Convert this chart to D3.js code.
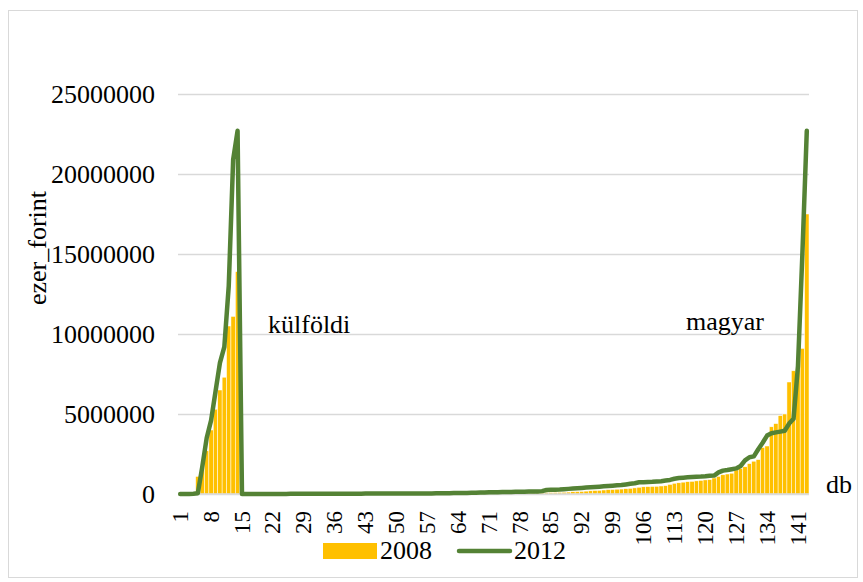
<!DOCTYPE html>
<html>
<head>
<meta charset="utf-8">
<script src="https://cdn.jsdelivr.net/npm/d3@7"></script>
<style>
  html, body { margin: 0; padding: 0; background: #fff; }
  svg { display: block; }
</style>
</head>
<body>
<svg id="chart" width="863" height="582"></svg>
<script>
// ---------- DATA ----------
const categories = d3.range(1, 144); // 1 .. 143
const tickLabels = [1, 8, 15, 22, 29, 36, 43, 50, 57, 64, 71, 78, 85, 92, 99, 106, 113, 120, 127, 134, 141];
const yTicks = [0, 5000000, 10000000, 15000000, 20000000, 25000000];
const seriesNames = ["2008", "2012"];

const values2008 = [
  0, 30000, 60000, 120000, 1100000, 1600000, 2700000, 4000000, 5300000, 6500000,
  7300000, 10500000, 11100000, 13900000, 0, 2000, 2500, 3000, 3500, 4000,
  4500, 5000, 5500, 6000, 6500, 7000, 7500, 8000, 9000, 10000,
  11000, 12000, 13000, 14000, 15000, 16000, 17000, 18000, 19000, 20000,
  21000, 22000, 23000, 24000, 25000, 26000, 27000, 28000, 29000, 30000,
  31000, 32000, 33000, 34000, 35000, 36000, 37000, 38000, 39000, 40000,
  42000, 44000, 46000, 48000, 50000, 52000, 54000, 56000, 58000, 60000,
  62000, 64000, 66000, 68000, 70000, 72000, 74000, 76000, 78000, 80000,
  82000, 84000, 86000, 88000, 90000, 95000, 100000, 110000, 120000, 140000,
  150000, 160000, 180000, 200000, 220000, 230000, 250000, 270000, 280000, 300000,
  310000, 330000, 350000, 380000, 420000, 450000, 460000, 470000, 480000, 500000,
  520000, 600000, 670000, 700000, 740000, 770000, 790000, 820000, 850000, 880000,
  900000, 1000000, 1100000, 1200000, 1250000, 1300000, 1500000, 1600000, 1700000, 1900000,
  2050000, 2150000, 2900000, 3000000, 4200000, 4400000, 4900000, 5000000, 7000000, 7700000,
  7800000, 9100000, 17500000
];

const values2012 = [
  0, 0, 0, 20000, 50000, 1700000, 3500000, 4600000, 6400000, 8200000,
  9200000, 13000000, 20900000, 22700000, 0, 3000, 3500, 4000, 4500, 5000,
  5500, 6000, 6500, 7000, 7500, 8000, 8500, 9000, 10000, 11000,
  12000, 13000, 14000, 15000, 16000, 17000, 18000, 19000, 20000, 21000,
  22000, 23000, 24000, 25000, 26000, 27000, 28000, 29000, 30000, 31000,
  32000, 33000, 34000, 35000, 36000, 37000, 38000, 39000, 40000, 42000,
  45000, 50000, 55000, 60000, 65000, 70000, 75000, 80000, 90000, 100000,
  105000, 110000, 115000, 120000, 125000, 130000, 135000, 140000, 145000, 150000,
  155000, 160000, 180000, 250000, 260000, 270000, 280000, 300000, 320000, 340000,
  360000, 380000, 400000, 420000, 440000, 460000, 480000, 500000, 520000, 540000,
  560000, 600000, 640000, 670000, 730000, 740000, 750000, 760000, 780000, 800000,
  840000, 880000, 950000, 1000000, 1020000, 1040000, 1060000, 1080000, 1090000, 1110000,
  1140000, 1150000, 1350000, 1460000, 1500000, 1550000, 1600000, 1750000, 2100000, 2300000,
  2350000, 2800000, 3200000, 3650000, 3800000, 3850000, 3900000, 3950000, 4400000, 4700000,
  8000000, 15000000, 22700000
];

// ---------- LAYOUT ----------
const svg = d3.select("#chart");
const plotLeft = 178, plotRight = 809, plotTop = 94, plotBottom = 494;
const font = "'Liberation Serif', 'Times New Roman', serif";
const barColor = "#FFC000";
const lineColor = "#548235";
const gridColor = "#d9d9d9";

// outer border
svg.append("rect")
  .attr("x", 8.5).attr("y", 10.5)
  .attr("width", 849).attr("height", 567)
  .attr("fill", "#fff").attr("stroke", gridColor).attr("stroke-width", 1);

const x = d3.scaleBand().domain(categories).range([plotLeft, plotRight]).padding(0);
const y = d3.scaleLinear().domain([0, 25000000]).range([plotBottom, plotTop]);

// gridlines + y labels
const yAxis = d3.axisLeft(y).tickValues(yTicks).tickSize(-(plotRight - plotLeft)).tickPadding(23)
  .tickFormat(d3.format("d"));
const gy = svg.append("g").attr("transform", `translate(${plotLeft},0)`).call(yAxis);
gy.select(".domain").remove();
gy.selectAll(".tick line").attr("stroke", gridColor).attr("stroke-width", 1.5);
gy.selectAll(".tick text").attr("font-family", font).attr("font-size", 26).attr("fill", "#000");

// bars (2008)
svg.append("g").selectAll("rect").data(categories).join("rect")
  .attr("x", d => x(d))
  .attr("width", x.bandwidth())
  .attr("y", (d, i) => y(values2008[i]))
  .attr("height", (d, i) => plotBottom - y(values2008[i]))
  .attr("fill", barColor)
  .attr("stroke", "#fff")
  .attr("stroke-width", 0.5);

// x axis
const xAxis = d3.axisBottom(x).tickValues(tickLabels).tickSize(0);
const gx = svg.append("g").attr("transform", `translate(0,${plotBottom})`).call(xAxis);
gx.select(".domain").attr("stroke", gridColor).attr("stroke-width", 1.5)
  .attr("d", `M${plotLeft},0H${plotRight}`);
gx.selectAll(".tick text")
  .attr("font-family", font).attr("font-size", 23).attr("fill", "#000")
  .attr("transform", "rotate(-90)")
  .attr("text-anchor", "end")
  .attr("x", -17).attr("y", 0).attr("dy", "0.33em");

// line (2012)
const line = d3.line()
  .x((d, i) => x(categories[i]) + x.bandwidth() / 2)
  .y(d => y(d));
svg.append("path").datum(values2012)
  .attr("d", line)
  .attr("fill", "none")
  .attr("stroke", lineColor)
  .attr("stroke-width", 4.5)
  .attr("stroke-linejoin", "round")
  .attr("stroke-linecap", "round");

// axis titles & annotations
svg.append("text")
  .attr("transform", "translate(46,248) rotate(-90)")
  .attr("text-anchor", "middle")
  .attr("font-family", font).attr("font-size", 26)
  .text("ezer_forint");
svg.append("text").attr("x", 826).attr("y", 493)
  .attr("font-family", font).attr("font-size", 26).text("db");
svg.append("text").attr("x", 268).attr("y", 333)
  .attr("font-family", font).attr("font-size", 26).text("külföldi");
svg.append("text").attr("x", 686).attr("y", 330)
  .attr("font-family", font).attr("font-size", 26).text("magyar");

// legend
const lg = svg.append("g");
lg.append("rect").attr("x", 323).attr("y", 543).attr("width", 54).attr("height", 16).attr("fill", barColor);
lg.append("text").attr("x", 380).attr("y", 559).attr("font-family", font).attr("font-size", 26).text(seriesNames[0]);
lg.append("line").attr("x1", 459).attr("x2", 510).attr("y1", 551).attr("y2", 551)
  .attr("stroke", lineColor).attr("stroke-width", 4.5).attr("stroke-linecap", "round");
lg.append("text").attr("x", 514).attr("y", 559).attr("font-family", font).attr("font-size", 26).text(seriesNames[1]);
</script>
</body>
</html>
